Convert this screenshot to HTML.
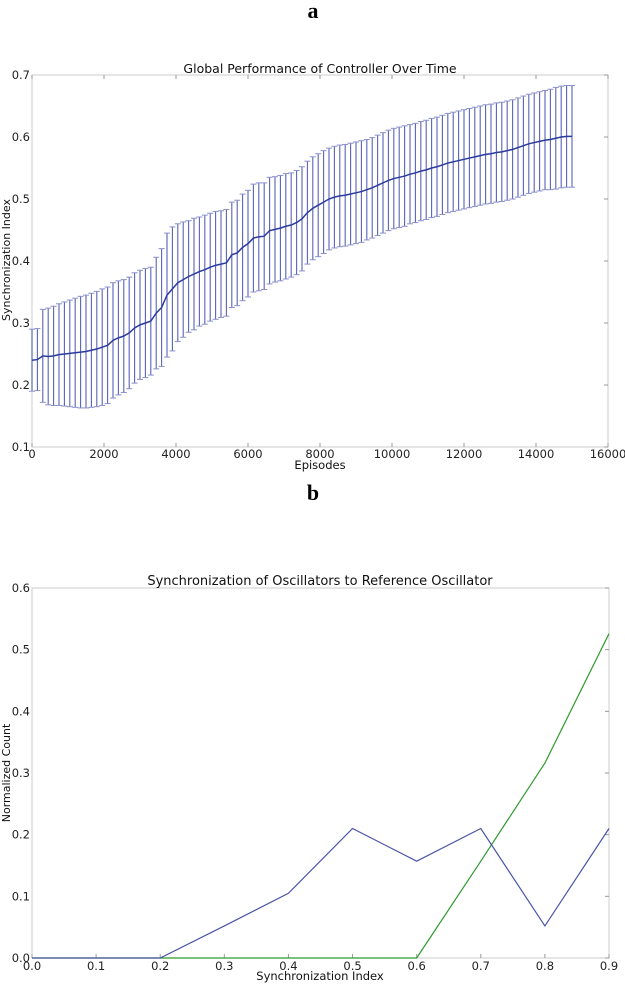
<!DOCTYPE html>
<html><head><meta charset="utf-8"><style>
body{margin:0;background:#fff;width:625px;height:985px;overflow:hidden;}
svg{display:block;font-family:"DejaVu Sans","Liberation Sans",sans-serif;}
</style></head><body>
<svg id="fig" width="625" height="985" viewBox="0 0 625 985">
<text x="313" y="18" font-family="Liberation Serif,serif" font-weight="bold" font-size="22" text-anchor="middle">a</text>
<text x="313" y="500" font-family="Liberation Serif,serif" font-weight="bold" font-size="22" text-anchor="middle">b</text>
<g id="ca"></g>
<g id="cb"></g>
</svg>
<script>
// Chart A data
const aEpisodeStep = 150;
const aMeans = [0.240,0.241,0.247,0.246,0.247,0.249,0.250,0.251,0.252,0.253,0.254,0.256,0.258,0.261,0.264,0.272,0.276,0.279,0.284,0.292,0.297,0.300,0.303,0.316,0.325,0.345,0.355,0.365,0.370,0.375,0.379,0.383,0.386,0.390,0.393,0.395,0.397,0.410,0.413,0.422,0.428,0.437,0.439,0.440,0.449,0.451,0.453,0.456,0.458,0.462,0.468,0.478,0.485,0.490,0.495,0.500,0.503,0.505,0.506,0.508,0.510,0.512,0.515,0.518,0.522,0.526,0.530,0.533,0.535,0.537,0.540,0.542,0.545,0.547,0.550,0.552,0.555,0.558,0.560,0.562,0.564,0.566,0.568,0.570,0.572,0.573,0.575,0.576,0.578,0.580,0.583,0.586,0.589,0.591,0.593,0.595,0.596,0.598,0.600,0.601,0.601];
const aErrors = [0.050,0.050,0.075,0.078,0.080,0.082,0.084,0.086,0.088,0.090,0.091,0.092,0.093,0.094,0.094,0.093,0.092,0.091,0.090,0.089,0.088,0.088,0.087,0.090,0.095,0.100,0.100,0.095,0.093,0.090,0.090,0.088,0.088,0.087,0.087,0.086,0.086,0.085,0.085,0.086,0.086,0.087,0.087,0.086,0.086,0.085,0.085,0.085,0.084,0.084,0.084,0.083,0.083,0.083,0.083,0.082,0.082,0.082,0.082,0.082,0.082,0.082,0.081,0.081,0.081,0.081,0.081,0.081,0.081,0.081,0.080,0.080,0.080,0.080,0.080,0.080,0.080,0.080,0.080,0.080,0.080,0.080,0.080,0.080,0.080,0.080,0.080,0.080,0.080,0.080,0.080,0.080,0.080,0.080,0.080,0.080,0.081,0.082,0.082,0.082,0.082];
const aXTicks = [0,2000,4000,6000,8000,10000,12000,14000,16000];
const aYTicks = [0.1,0.2,0.3,0.4,0.5,0.6,0.7];
// Chart B data
const bX = [0.0,0.1,0.2,0.3,0.4,0.5,0.6,0.7,0.8,0.9];
const bBlue = [0,0,0,0.052,0.105,0.21,0.157,0.21,0.052,0.21];
const bGreen = [0,0,0,0,0,0,0,0.157,0.316,0.526];
const bXTicks = [0.0,0.1,0.2,0.3,0.4,0.5,0.6,0.7,0.8,0.9];
const bYTicks = [0.0,0.1,0.2,0.3,0.4,0.5,0.6];

const NS="http://www.w3.org/2000/svg";
function mk(parent,tag,attrs,text){const e=document.createElementNS(NS,tag);for(const k in attrs)e.setAttribute(k,attrs[k]);if(text!==undefined)e.textContent=text;parent.appendChild(e);return e;}

// ---- Chart A ----
const ga=document.getElementById('ca');
const aL=32,aR=608,aT=75,aB=447;
const ax=v=>aL+(v-0)/(16000)*(aR-aL);
const ay=v=>aB-(v-0.1)/(0.6)*(aB-aT);
let e=mk(ga,'rect',{x:aL,y:aT,width:aR-aL,height:aB-aT,fill:'none',stroke:'#ccc','stroke-width':1});


aXTicks.forEach(t=>{
  const x=ax(t);
  let l=mk(ga,'line',{x1:x,x2:x,y1:aB,y2:aB-4,stroke:'#999'});
  
  
  let l2=mk(ga,'line',{x1:x,x2:x,y1:aT,y2:aT+4,stroke:'#999'});
  
  
  let tx=mk(ga,'text',{x:x,y:aB+11,'font-size':11.5,'text-anchor':'middle',fill:'#222'},String(t));
  
  
});
aYTicks.forEach(t=>{
  const y=ay(t);
  let l=mk(ga,'line',{x1:aR,x2:aR-4,y1:y,y2:y,stroke:'#999'});
  
  
  let tx=mk(ga,'text',{x:aL-2,y:y+4,'font-size':11.5,'text-anchor':'end',fill:'#222'},t.toFixed(1));
  
  
});
e=mk(ga,'text',{x:320,y:73,'font-size':12.5,'text-anchor':'middle',fill:'#111'},'Global Performance of Controller Over Time');


e=mk(ga,'text',{x:320,y:469,'font-size':11.5,'text-anchor':'middle',fill:'#111'},'Episodes');


e=mk(ga,'text',{x:0,y:0,'font-size':11,'text-anchor':'middle',fill:'#111',transform:'translate(10,260) rotate(-90)'},'Synchronization Index');


aMeans.forEach((m,i)=>{
  const x=ax(i*aEpisodeStep);const up=ay(m+aErrors[i]),lo=ay(m-aErrors[i]);
  let b=mk(ga,'line',{x1:x,x2:x,y1:up,y2:lo,stroke:'#3a47a8','stroke-width':1.1,opacity:0.85});
  
  
  let c1=mk(ga,'line',{x1:x-3,x2:x+3,y1:up,y2:up,stroke:'#8a90cc','stroke-width':1});
  
  
  let c2=mk(ga,'line',{x1:x-3,x2:x+3,y1:lo,y2:lo,stroke:'#8a90cc','stroke-width':1});
  
  
});
e=mk(ga,'polyline',{points:aMeans.map((m,i)=>ax(i*aEpisodeStep)+','+ay(m)).join(' '),fill:'none',stroke:'#2b3a9e','stroke-width':1.5});



// ---- Chart B ----
const gb=document.getElementById('cb');
const bL=32,bR=609,bT=588,bB=958;
const bx=v=>bL+v/0.9*(bR-bL);
const by=v=>bB-v/0.6*(bB-bT);
e=mk(gb,'rect',{x:bL,y:bT,width:bR-bL,height:bB-bT,fill:'none',stroke:'#ccc','stroke-width':1});


bXTicks.forEach(t=>{
  const x=bx(t);
  let l=mk(gb,'line',{x1:x,x2:x,y1:bB,y2:bB-4,stroke:'#999'});
  
  
  let tx=mk(gb,'text',{x:x,y:bB+12,'font-size':11.5,'text-anchor':'middle',fill:'#222'},t.toFixed(1));
  
  
});
bYTicks.forEach(t=>{
  const y=by(t);
  let l=mk(gb,'line',{x1:bR,x2:bR-4,y1:y,y2:y,stroke:'#999'});
  
  
  let tx=mk(gb,'text',{x:bL-2,y:y+4,'font-size':11.5,'text-anchor':'end',fill:'#222'},t.toFixed(1));
  
  
});
e=mk(gb,'text',{x:320,y:585,'font-size':13,'text-anchor':'middle',fill:'#111'},'Synchronization of Oscillators to Reference Oscillator');


e=mk(gb,'text',{x:320,y:980,'font-size':11.5,'text-anchor':'middle',fill:'#111'},'Synchronization Index');


e=mk(gb,'text',{x:0,y:0,'font-size':11,'text-anchor':'middle',fill:'#111',transform:'translate(10,773) rotate(-90)'},'Normalized Count');


e=mk(gb,'polyline',{points:bX.map((v,i)=>bx(v)+','+by(bGreen[i])).join(' '),fill:'none',stroke:'#2e9a2e','stroke-width':1.2});


e=mk(gb,'polyline',{points:bX.map((v,i)=>bx(v)+','+by(bBlue[i])).join(' '),fill:'none',stroke:'#4a55a8','stroke-width':1.2});


</script>
</body></html>
